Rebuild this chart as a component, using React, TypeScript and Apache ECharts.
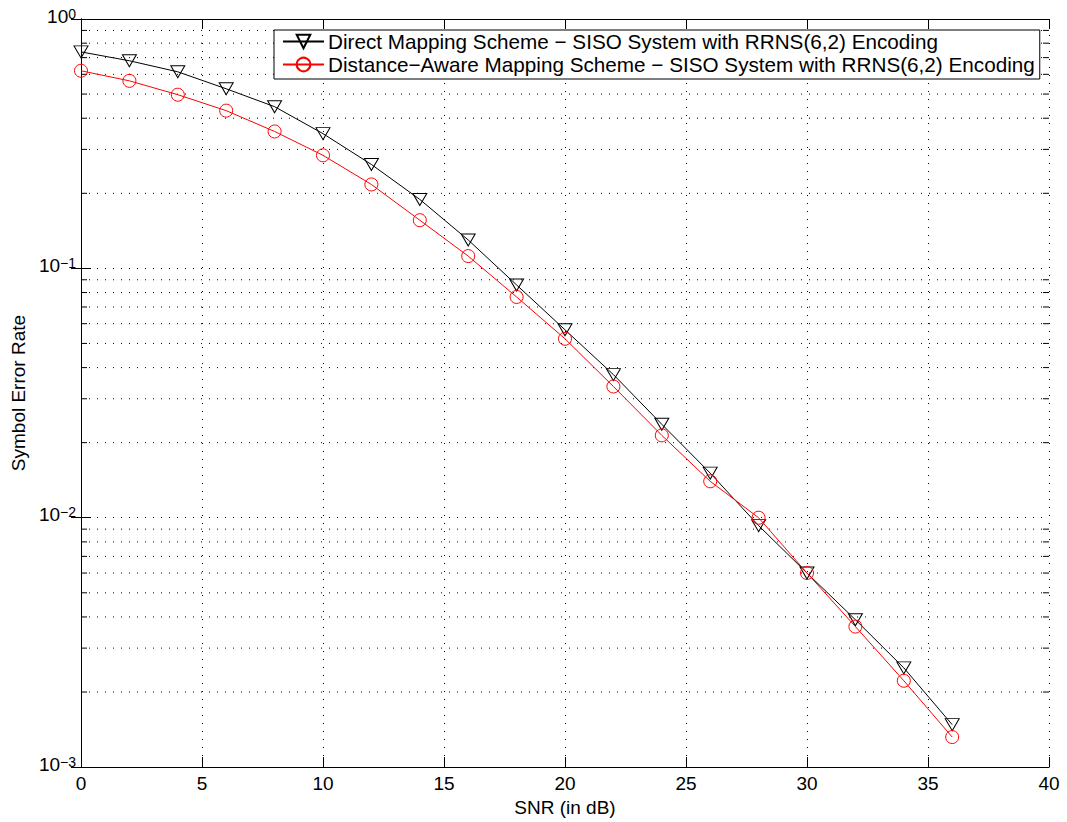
import React, { useEffect, useRef } from "react";
import * as echarts from "echarts";

const snr = [0, 2, 4, 6, 8, 10, 12, 14, 16, 18, 20, 22, 24, 26, 28, 30, 32, 34, 36];
const directSER = [0.738, 0.68, 0.614, 0.525, 0.445, 0.347, 0.261, 0.189, 0.13, 0.0858, 0.0567, 0.0375, 0.0237, 0.0151, 0.0093, 0.006, 0.0039, 0.0025, 0.00148];
const distanceSER = [0.62, 0.565, 0.497, 0.429, 0.354, 0.284, 0.217, 0.156, 0.112, 0.0768, 0.0522, 0.0336, 0.0214, 0.014, 0.01, 0.006, 0.00366, 0.00222, 0.00132];
const minorYValues = [0.002, 0.003, 0.004, 0.005, 0.006, 0.007, 0.008, 0.009, 0.02, 0.03, 0.04, 0.05, 0.06, 0.07, 0.08, 0.09, 0.2, 0.3, 0.4, 0.5, 0.6, 0.7, 0.8, 0.9];
const seriesNames = [
  "Direct Mapping Scheme \u2212 SISO System with RRNS(6,2) Encoding",
  "Distance\u2212Aware Mapping Scheme \u2212 SISO System with RRNS(6,2) Encoding",
];
const xAxisTitle = "SNR (in dB)";
const yAxisTitle = "Symbol Error Rate";

const FONT = "'Liberation Sans', Arial, Helvetica, sans-serif";

export default function App() {
  const ref = useRef<HTMLDivElement>(null);
  useEffect(() => {
    if (!ref.current) return;
    const chart = echarts.init(ref.current, undefined, { renderer: "svg" });
    const dotted = { color: "#000", width: 1, type: [1, 7] as any };
    const option: any = {
      animation: false,
      backgroundColor: "#fff",
      textStyle: { fontFamily: FONT },
      grid: { left: 81, right: 18, top: 19, bottom: 52, containLabel: false },
      legend: {
        orient: "vertical",
        left: 274,
        top: 30,
        data: seriesNames,
        backgroundColor: "#fff",
        borderColor: "#000",
        borderWidth: 1,
        borderRadius: 0,
        padding: [1, 5, 4, 8],
        itemWidth: 41,
        itemHeight: 17,
        itemGap: 2,
        textStyle: { fontSize: 20.7, fontFamily: FONT, color: "#000", lineHeight: 20, padding: [0, 0, 0, -1] },
        selectedMode: false,
      },
      xAxis: [
        {
          type: "value",
          min: 0,
          max: 40,
          interval: 5,
          name: xAxisTitle,
          nameLocation: "middle",
          nameGap: 27,
          nameTextStyle: { fontSize: 19, color: "#000", fontFamily: FONT },
          axisLine: { show: true, lineStyle: { color: "#000", width: 1 } },
          axisTick: { show: true, inside: true, length: 10, lineStyle: { color: "#000" } },
          axisLabel: { fontSize: 19, color: "#000", margin: 7, fontFamily: FONT },
          splitLine: { show: true, lineStyle: dotted },
        },
        {
          type: "value",
          position: "top",
          min: 0,
          max: 40,
          interval: 5,
          axisLine: { show: true, lineStyle: { color: "#000", width: 1 } },
          axisTick: { show: true, inside: true, length: 10, lineStyle: { color: "#000" } },
          axisLabel: { show: false },
          splitLine: { show: false },
        },
      ],
      yAxis: [
        {
          type: "log",
          logBase: 10,
          min: 0.001,
          max: 1,
          name: yAxisTitle,
          nameLocation: "middle",
          nameGap: 52,
          nameTextStyle: { fontSize: 19, color: "#000", fontFamily: FONT },
          axisLine: { show: true, lineStyle: { color: "#000", width: 1 } },
          axisTick: { show: true, inside: true, length: 10, lineStyle: { color: "#000" } },
          axisLabel: {
            margin: 5,
            padding: [0, 0, 6, 0],
            formatter: (v: number) => {
              const e = Math.round(Math.log10(v));
              return `{b|10}{s|${e < 0 ? "\u2212" : ""}${Math.abs(e)}}`;
            },
            rich: {
              b: { fontSize: 19, lineHeight: 19, verticalAlign: "bottom", color: "#000", fontFamily: FONT },
              s: { fontSize: 14, lineHeight: 14, verticalAlign: "top", padding: [0, 0, 11, 0], color: "#000", fontFamily: FONT },
            },
          },
          splitLine: { show: true, lineStyle: dotted },
        },
        {
          type: "log",
          logBase: 10,
          min: 0.001,
          max: 1,
          position: "right",
          axisLine: { show: true, lineStyle: { color: "#000", width: 1 } },
          axisTick: { show: true, inside: true, length: 10, lineStyle: { color: "#000" } },
          axisLabel: { show: false },
          splitLine: { show: false },
        },
      ],
      series: [
        {
          type: "custom",
          name: "minorGrid",
          xAxisIndex: 0,
          yAxisIndex: 0,
          silent: true,
          z: 1,
          clip: false,
          data: minorYValues.map((v) => [0, v]),
          renderItem: (params: any, api: any) => {
            const cs = params.coordSys;
            const y = api.coord([0, api.value(1)])[1];
            return {
              type: "group",
              children: [
                { type: "line", shape: { x1: cs.x, y1: y, x2: cs.x + cs.width, y2: y }, style: { stroke: "#000", lineWidth: 1, lineDash: [1, 7] } },
                { type: "line", shape: { x1: cs.x, y1: y, x2: cs.x + 6, y2: y }, style: { stroke: "#000", lineWidth: 1 } },
                { type: "line", shape: { x1: cs.x + cs.width - 6, y1: y, x2: cs.x + cs.width, y2: y }, style: { stroke: "#000", lineWidth: 1 } },
              ],
            };
          },
        },
        {
          type: "line",
          name: seriesNames[0],
          z: 3,
          data: snr.map((x, i) => [x, directSER[i]]),
          symbol: "triangle",
          symbolRotate: 180,
          symbolSize: [14, 12],
          showAllSymbol: true,
          lineStyle: { color: "#000", width: 1 },
          itemStyle: { color: "rgba(0,0,0,0)", borderColor: "#000", borderWidth: 1 },
        },
        {
          type: "line",
          name: seriesNames[1],
          z: 4,
          data: snr.map((x, i) => [x, distanceSER[i]]),
          symbol: "circle",
          symbolSize: 13,
          showAllSymbol: true,
          lineStyle: { color: "#ff0000", width: 1 },
          itemStyle: { color: "rgba(0,0,0,0)", borderColor: "#ff0000", borderWidth: 1 },
        },
      ],
    };
    chart.setOption(option);
    return () => chart.dispose();
  }, []);
  return <div ref={ref} style={{ position: "fixed", left: 0, top: 0, width: 1067, height: 822, background: "#fff" }} />;
}
